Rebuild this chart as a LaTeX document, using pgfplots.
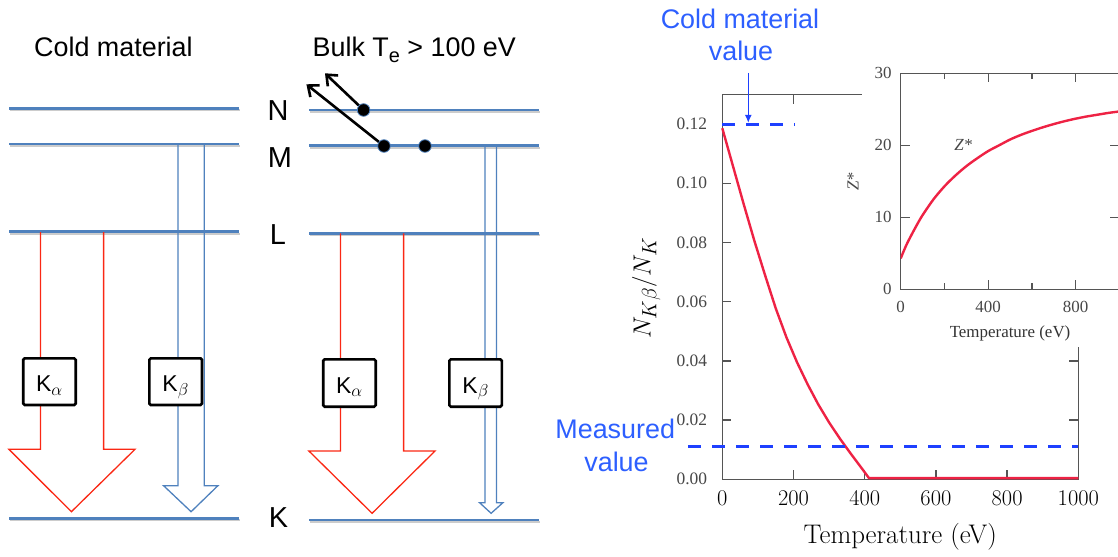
\documentclass[border=0pt]{standalone}
\usepackage{fontspec}
\newfontfamily\arial{Liberation Sans}
\newfontfamily\timesf{Liberation Serif}
\usepackage{pgfplots}
\pgfplotsset{compat=1.18}
\usepackage{pgfplotstable}
\usetikzlibrary{arrows.meta}

\definecolor{levelblue}{RGB}{79,129,189}
\definecolor{kred}{RGB}{250,40,20}
\definecolor{curvered}{RGB}{238,34,68}
\definecolor{annblue}{RGB}{30,64,255}
\definecolor{txtblue}{RGB}{45,95,255}
\definecolor{framegray}{RGB}{85,85,85}

\newcommand\fs[1]{\fontsize{#1}{#1}\selectfont}

% K-beta / K ratio versus bulk electron temperature
\pgfplotstableread{
T ratio
0 0.1186
30 0.1058
60 0.0930
90 0.0806
120 0.0690
150 0.0578
180 0.0480
210 0.0395
240 0.0320
270 0.0252
300 0.0192
330 0.0138
360 0.0088
390 0.0040
412 0.0004
1000 0.0004
}\ratiodata

% mean ionisation Z* versus temperature
\pgfplotstableread{
T Z
0 4.3
25 6.1
50 7.6
75 9.0
100 10.3
150 12.5
200 14.3
250 15.8
300 17.1
350 18.2
400 19.2
450 20.0
500 20.8
550 21.45
600 22.0
650 22.5
700 22.95
750 23.35
800 23.7
850 24.0
900 24.25
950 24.5
1000 24.7
}\zdata

\begin{document}
\begin{tikzpicture}

% ---------------- level diagrams ----------------
\begin{scope}[x=1bp,y=-1bp]
  % shell levels, cold (left) and hot (right)
  \foreach \y in {108.3,144,231.7,518.3}{
    \draw[black!20, line width=2bp] (10,\y+2) -- (239.6,\y+2);
    \draw[levelblue, line width=2.6bp] (9,\y) -- (238.6,\y);}
  \foreach \y in {110,145.7,233.3,520}{
    \draw[black!20, line width=2bp] (310,\y+2) -- (539.6,\y+2);
    \draw[levelblue, line width=2.6bp] (309,\y) -- (538.6,\y);}

  % K-alpha and K-beta transitions, cold
  \draw[kred, line width=1.3bp, line join=miter]
    (40.4,232) -- (40.4,449.3) -- (8.9,449.3) -- (71.4,511.7) -- (135,449.3) -- (103.6,449.3) -- (103.6,232);
  \draw[levelblue, line width=1.3bp, line join=miter]
    (177.9,144) -- (177.9,485.7) -- (163.6,485.7) -- (191.1,511.7) -- (217.9,485.7) -- (204.3,485.7) -- (204.3,144);
  % K-alpha and K-beta transitions, hot
  \draw[kred, line width=1.3bp, line join=miter]
    (340.4,233.3) -- (340.4,451) -- (308.9,451) -- (372.1,513.3) -- (435,451) -- (403.6,451) -- (403.6,233.3);
  \draw[levelblue, line width=1.3bp, line join=miter]
    (485,145.7) -- (485,502.7) -- (479.6,502.7) -- (491.1,513.3) -- (502.9,502.7) -- (496.4,502.7) -- (496.4,145.7);

  % line labels
  \tikzset{kbox/.style={draw=black, line width=2.6bp, fill=white, rounded corners=1.5bp}}
  \draw[kbox] (23.2,358.3) rectangle (75.7,405);
  \draw[kbox] (149.3,358.3) rectangle (202,405);
  \draw[kbox] (323.2,359.3) rectangle (375.7,406.7);
  \draw[kbox] (449.3,359.3) rectangle (501.8,406.7);
  \tikzset{klab/.style={font=\arial\fs{23}, inner sep=0pt, anchor=base}}
  \node[klab] at (49.5,391.7) {K$_\alpha$};
  \node[klab] at (175.6,391.7) {K$_\beta$};
  \node[klab] at (349.5,393) {K$_\alpha$};
  \node[klab] at (475.6,393) {K$_\beta$};

  % ionised electrons leaving N and M
  \draw[black, line width=2.6bp, -{Straight Barb[length=9bp,width=15bp]}] (363.6,110) -- (325,73.3);
  \draw[black, line width=2.6bp, -{Straight Barb[length=9bp,width=15bp]}] (384,146) -- (306.4,84.3);
  \foreach \p in {(363.6,110),(384,146),(425,146)}
    \filldraw[fill=black, draw=levelblue, line width=0.8bp] \p circle (6.3);

  % shell names
  \tikzset{shell/.style={font=\arial\fs{29}, inner sep=0pt}}
  \node[shell] at (278,111) {N};
  \node[shell] at (280,157.5) {M};
  \node[shell] at (278,235) {L};
  \node[shell] at (278.6,518) {K};

  % headings
  \node[font=\arial\fs{27}, anchor=base west, inner sep=0pt] at (34,56) {Cold material};
  \node[font=\arial\fs{27}, anchor=base west, inner sep=0pt] at (312.5,56)
    {Bulk T\raisebox{-6bp}{\fs{20}e} > 100 eV};

  % annotations of the ratio plot
  \tikzset{ann/.style={font=\arial\fs{27}, text=txtblue, inner sep=0pt, anchor=base}}
  \node[ann] at (740,28.3) {Cold material};
  \node[ann] at (741,60) {value};
  \node[ann] at (615.2,438.3) {Measured};
  \node[ann] at (616.5,471.7) {value};
\end{scope}

% ---------------- ratio plot ----------------
\begin{axis}[
  at={(722.3bp,-479.3bp)}, anchor=south west,
  scale only axis, width=356bp, height=384.8bp,
  xmin=0, xmax=1000, ymin=0, ymax=0.13,
  clip=false,
  axis line style={draw=framegray, line width=1.6bp},
  tick style={draw=framegray, line width=1.3bp},
  tick align=inside, major tick length=9bp,
  xtick={0,200,400,600,800,1000},
  xticklabels={0,200,400,600,800,1000},
  ytick={0,0.02,0.04,0.06,0.08,0.10,0.12},
  yticklabels={0.00,0.02,0.04,0.06,0.08,0.10,0.12},
  xticklabel style={font=\fs{22.5}, anchor=center, inner sep=0pt, yshift=-18.7bp},
  yticklabel style={font=\timesf\fs{17.5}, text=black!72, anchor=east, inner sep=0pt, xshift=-15bp},
  xlabel={Temperature (eV)},
  xlabel style={font=\fs{27}, at={(axis description cs:0.5,-0.149)}, anchor=center},
  ylabel={$N_{K\beta}/N_K$},
  ylabel style={font=\fs{29}, at={(axis description cs:-0.2135,0.497)}, anchor=center},
]
  \addplot[curvered, line width=2.4bp, line join=round] table[x=T, y=ratio] {\ratiodata};
  % cold material value
  \addplot[annblue, line width=3bp, dash pattern=on 13bp off 11bp] coordinates {(0,0.12) (205,0.12)};
  % measured value
  \addplot[annblue, line width=3bp, dash pattern=on 13bp off 11bp] coordinates {(-95,0.011) (1000,0.011)};
  \draw[annblue, line width=1.3bp, -{Latex[length=8bp,width=7bp]}] (axis cs:73,0.1373) -- (axis cs:73,0.1204);
\end{axis}

% blank area behind the inset
\begin{scope}[x=1bp,y=-1bp]
  \fill[white] (862,-2) rectangle (1120,347);
\end{scope}

% ---------------- inset: Z* ----------------
\begin{axis}[
  at={(900.7bp,-289.3bp)}, anchor=south west,
  scale only axis, width=218.7bp, height=216bp,
  xmin=0, xmax=1000, ymin=0, ymax=30,
  axis line style={draw=framegray, line width=1.5bp},
  tick style={draw=framegray, line width=1.2bp},
  tick align=inside, major tick length=9bp, minor tick length=6bp,
  xtick={0,400,800}, xticklabels={0,400,800},
  minor xtick={200,600,1000},
  ytick={0,10,20,30}, yticklabels={0,10,20,30},
  xticklabel style={font=\timesf\fs{17}, text=black!72, anchor=center, inner sep=0pt, yshift=-17.7bp},
  yticklabel style={font=\timesf\fs{17}, text=black!72, anchor=east, inner sep=0pt, xshift=-9bp},
  xlabel={Temperature (eV)},
  xlabel style={font=\timesf\fs{17}, text=black!80, at={(axis description cs:0.5,-0.204)}, anchor=center},
  ylabel={Z*},
  ylabel style={font=\timesf\itshape\fs{17}, text=black!72, at={(axis description cs:-0.218,0.497)}, anchor=center},
]
  \addplot[curvered, line width=2.4bp, smooth] table[x=T, y=Z] {\zdata};
  \node[font=\timesf\itshape\fs{17}, text=black!72] at (axis cs:286,20) {Z*};
\end{axis}

\pgfresetboundingbox
\path (0bp,0bp) rectangle (1118bp,-557bp);
\end{tikzpicture}
\end{document}
